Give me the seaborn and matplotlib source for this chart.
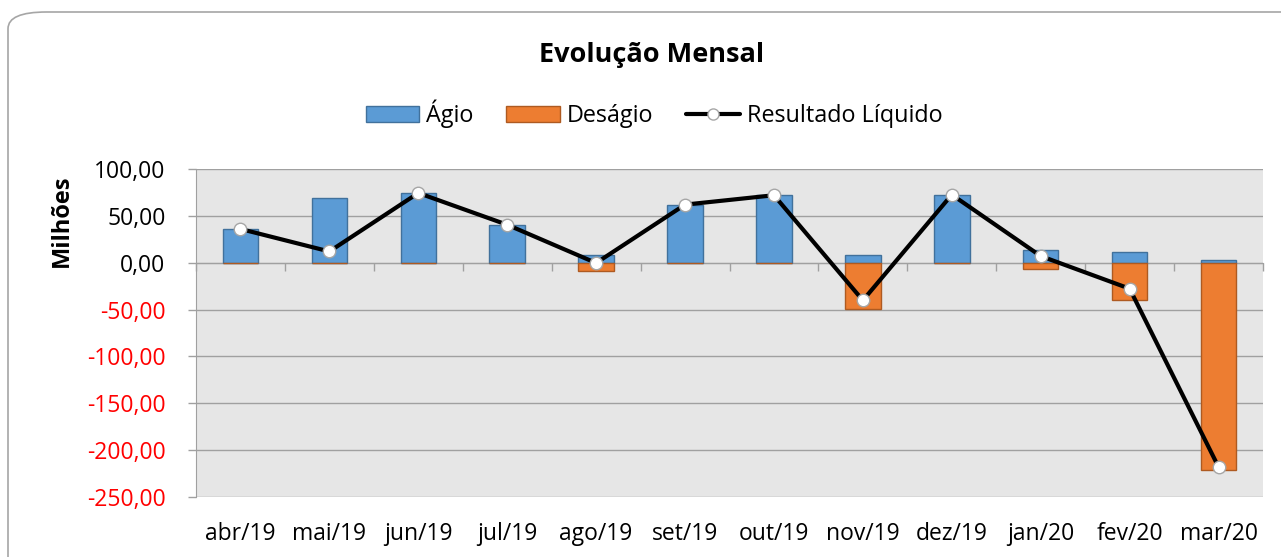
import numpy as np
import pandas as pd
import matplotlib.pyplot as plt
import seaborn as sns
from matplotlib.patches import Patch, FancyBboxPatch
from matplotlib.lines import Line2D
from matplotlib.ticker import FuncFormatter, MultipleLocator

sns.set_style('white')
plt.rcParams['font.family'] = ['Open Sans', 'DejaVu Sans']
plt.rcParams['text.color'] = 'black'
plt.rcParams['xtick.color'] = 'black'
plt.rcParams['ytick.color'] = 'black'

meses = ['abr/19', 'mai/19', 'jun/19', 'jul/19', 'ago/19', 'set/19',
         'out/19', 'nov/19', 'dez/19', 'jan/20', 'fev/20', 'mar/20']
agio = [36.0, 68.6, 74.4, 40.2, 8.5, 62.0, 71.8, 8.5, 72.6, 13.5, 11.7, 2.5]
desagio = [0.0, 0.0, 0.0, -0.6, -9.3, -0.6, 0.0, -49.4, 0.0, -6.4, -40.2, -221.0]
resultado = [36.0, 12.0, 74.4, 40.5, -0.3, 62.0, 72.0, -40.2, 72.6, 7.1, -27.7, -218.0]

azul, azul_borda = '#5b9bd5', '#41719c'
laranja, laranja_borda = '#ed7d31', '#ae5a21'

fig = plt.figure(figsize=(12.81, 5.57), dpi=100)
ax = fig.add_axes([196 / 1281, 1 - 497 / 557, (1263 - 196) / 1281, (497 - 169) / 557])
ax.set_facecolor('#e6e6e6')

# moldura arredondada
borda = FancyBboxPatch((8 / 1281, -0.05), 1.05, 1 - 12 / 557 + 0.05,
                       boxstyle='round,pad=0,rounding_size=0.03',
                       transform=fig.transFigure, facecolor='none',
                       edgecolor='#a6a6a6', linewidth=1.2, zorder=-1)
fig.patches.append(borda)

sns.barplot(x=meses, y=agio, color=azul, edgecolor=azul_borda, linewidth=1,
            saturation=1, width=0.4, ax=ax, zorder=3)
sns.barplot(x=meses, y=desagio, color=laranja, edgecolor=laranja_borda, linewidth=1,
            saturation=1, width=0.4, ax=ax, zorder=3)
sns.lineplot(x=np.arange(len(meses)), y=resultado, color='black', linewidth=3,
             marker='o', markersize=9, markerfacecolor='white',
             markeredgecolor='#a6a6a6', markeredgewidth=1, ax=ax, zorder=5)

ax.set_ylim(-250, 100)
ax.set_xlim(-0.5, 11.5)
ax.yaxis.set_major_locator(MultipleLocator(50))
ax.yaxis.set_major_formatter(FuncFormatter(lambda v, p: f'{v:.2f}'.replace('.', ',')))
ax.grid(axis='y', color='#a0a0a0', linewidth=1, zorder=0)
ax.set_axisbelow(True)
ax.tick_params(axis='y', direction='out', length=6, width=1, color='#a0a0a0',
               labelsize=16.5, pad=16, left=True)
for lbl in ax.get_yticklabels():
    v = float(lbl.get_text().replace('−', '-').replace(',', '.'))
    lbl.set_color('red' if v < 0 else 'black')

for s in ['top', 'right']:
    ax.spines[s].set_visible(False)
ax.spines['left'].set_color('#a0a0a0')
ax.spines['bottom'].set_position(('data', 0))
ax.spines['bottom'].set_color('#a0a0a0')
ax.set_xticks(np.arange(-0.5, 12, 1))
ax.tick_params(axis='x', direction='out', length=6, width=1, color='#a0a0a0',
               labelbottom=False, bottom=True)

sec = ax.secondary_xaxis(0)
sec.set_xticks(np.arange(len(meses)))
sec.set_xticklabels(meses)
sec.tick_params(length=0, labelsize=16.5, pad=18)
sec.spines['bottom'].set_visible(False)

ax.set_xlabel('')
ax.set_ylabel('')
fig.text(62 / 1281, 1 - 221 / 557, 'Milhões', rotation=90, ha='center', va='center',
         fontsize=17, fontweight='bold')
fig.text(652 / 1281, 1 - 55 / 557, 'Evolução Mensal', ha='center', va='center',
         fontsize=19.5, fontweight='bold')

handles = [Patch(facecolor=azul, edgecolor=azul_borda),
           Patch(facecolor=laranja, edgecolor=laranja_borda),
           Line2D([], [], color='black', linewidth=3, marker='o', markersize=8,
                  markerfacecolor='white', markeredgecolor='#a6a6a6')]
fig.legend(handles, ['Ágio', 'Deságio', 'Resultado Líquido'], loc='center',
           bbox_to_anchor=(654 / 1281, 1 - 114 / 557), ncol=3, frameon=False,
           fontsize=16.8, handlelength=2.3, handleheight=0.7, handletextpad=0.3,
           columnspacing=1.4)

fig.savefig('out.png', dpi=100)
